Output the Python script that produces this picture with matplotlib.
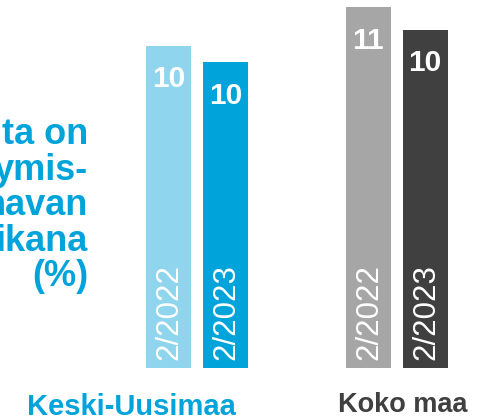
import matplotlib
matplotlib.use("Agg")
import matplotlib.pyplot as plt

# Data
groups = ["Keski-Uusimaa", "Koko maa"]
periods = ["2/2022", "2/2023", "2/2022", "2/2023"]
values = [10.0, 9.5, 11.2, 10.5]
labels = ["10", "10", "11", "10"]
positions = [0, 1, 3.5, 4.5]
colors = ["#8fd5ee", "#00a3da", "#a6a6a6", "#404040"]
group_colors = ["#00a3da", "#404040"]
side_text = "ta on\nymis-\nnavan\nikana\n(%)"

plt.rcParams["font.family"] = ["Liberation Sans", "DejaVu Sans"]

W, H = 492, 420
fig = plt.figure(figsize=(W / 100, H / 100), dpi=100)

# axes: bottom of bars at y=368px, 32.2 px per unit
px_per_unit_y = 32.2
ymax = 11.5
ax_bottom = (H - 368) / H
ax_height = ymax * px_per_unit_y / H
ax = fig.add_axes([0, ax_bottom, 1, ax_height])
px_per_unit_x = 57
x0 = -168.5 / px_per_unit_x
ax.set_xlim(x0, x0 + W / px_per_unit_x)
ax.set_ylim(0, ymax)
ax.axis("off")

bars = ax.bar(positions, values, width=45 / px_per_unit_x, color=colors)

for bar, lab, per in zip(bars, labels, periods):
    cx = bar.get_x() + bar.get_width() / 2
    top = bar.get_height()
    ax.annotate(lab, (cx, top), xytext=(0, -14), textcoords="offset points",
                ha="center", va="top", color="white", fontsize=21.5,
                fontweight="bold")
    ax.annotate(per, (cx + 0.02, 0), xytext=(0, 6), textcoords="offset points",
                ha="center", va="bottom", rotation=90, color="white",
                fontsize=22.5)

# group labels
fig.text(131 / W, 1 - 415 / H, groups[0], ha="center", va="baseline",
         color=group_colors[0], fontsize=21, fontweight="bold")
fig.text(403 / W, 1 - 412 / H, groups[1], ha="center", va="baseline",
         color=group_colors[1], fontsize=19.5, fontweight="bold")

# side title, cut at left edge
fig.text(88 / W, 1 - 117 / H, side_text, ha="right", va="top",
         multialignment="right", color="#00a3da", fontsize=26,
         fontweight="bold", linespacing=1.02)

fig.savefig("out.png", dpi=100)
